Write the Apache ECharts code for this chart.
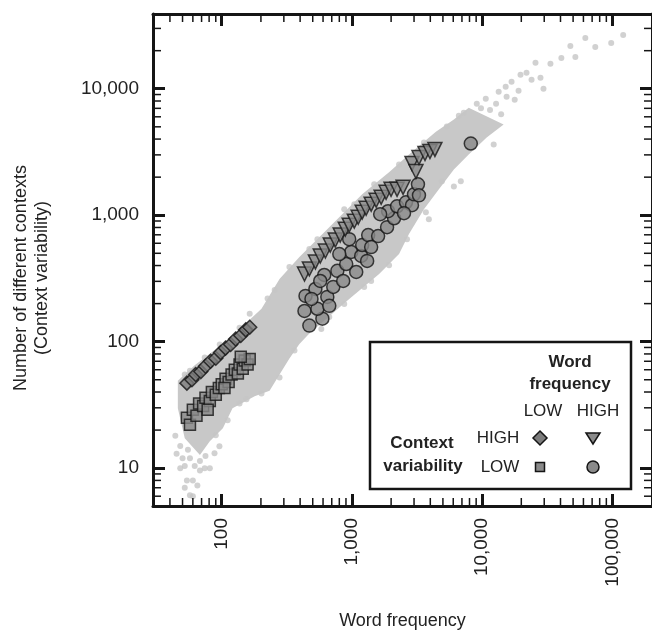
<!DOCTYPE html>
<html><head><meta charset="utf-8">
<script src="https://cdn.jsdelivr.net/npm/echarts@6/dist/echarts.min.js"></script>
<style>html,body{margin:0;padding:0;background:#fff}#c{width:652px;height:635px}</style>
</head><body><div id="c"></div>
<script>
// ---- axis ticks ----
const xTickValues = [100, 1000, 10000, 100000];
const xTickLabels = ['100', '1,000', '10,000', '100,000'];
const yTickValues = [10, 100, 1000, 10000];
const yTickLabels = ['10', '100', '1,000', '10,000'];
const xMinorTicks = [40,50,60,70,80,90,200,300,400,500,600,700,800,900,2000,3000,4000,5000,6000,7000,8000,9000,20000,30000,40000,50000,60000,70000,80000,90000];
const yMinorTicks = [6,7,8,9,20,30,40,50,60,70,80,90,200,300,400,500,600,700,800,900,2000,3000,4000,5000,6000,7000,8000,9000,20000,30000];

// ---- dense grey cloud of all words: outline (frequency, contexts) ----
const bandFreq = [46,62,115,202,278,395,670,1199,1928,2743,4416,6067,7889,14630,10840,7889,6067,4656,3573,2743,2301,1618,953,471,395,331,278,233,179,121,102,81,68,52,46];
const bandCtx  = [49,65,106,182,313,467,805,1462,2183,3020,4580,5700,7080,5212,4110,3020,2303,1602,1115,709,493,343,218,116,96,73.5,55,41,37,29.7,20.7,16.3,12.7,17.2,29.7];

// ---- individual grey words (sparse edges) ----
const grayFreq = [50,57,68,52,62,68,74,81,54,60,52,65,57,60,88,96,48,45,48,44,55,75,
  10670,13400,15170,16830,19050,19720,21930,23970,25700,28070,29600,33480,40620,47630,52030,62060,73990,98100,121200,15420,11500,12800,9800,17800,14000,
  52,74,137,255,543,873,1483,2301,3573,5358,7230,9100,96.5,471,1043,6625,57,164,225,331,
  12270,6860,3899,1928,1242,670,362,202,137,111,90,4910,6067,3698,582,873,1405,2649,155,278];
const grayCtx  = [12,12,11.4,10.4,10.4,9.6,10,10,8,8,7,7.3,6.1,6,13.1,14.9,10,13,15,18,14,12.5,
  8340,9460,10370,11350,9640,12880,13360,11770,16030,12210,10000,15740,17540,21810,17860,25230,21430,23030,26600,8650,6800,7600,7000,8200,6300,
  55,75,129,256,647,1115,1754,2523,3758,5020,6470,7620,95,540,1222,6120,59,166,220,390,
  3622,1854,931,403,271,157,85,39,32.5,23.9,18.2,1854,1690,1057,126,199,302,647,35,52];

// ---- LOW frequency / HIGH context variability (diamonds) ----
const diamondFreq = [54,59,63,69,75,82,90,98,107,117,128,140,153,164];
const diamondCtx  = [47,50,55,58,64,70,74,82,89,95,105,112,124,130];

// ---- LOW frequency / LOW context variability (squares) ----
const squareFreq = [54,57,60,64,67,72,75,81,84,90,95,100,107,113,119,126,133,137,145,150,158,164,140,105,78];
const squareCtx  = [25,22,29,26,32.5,31,36,34,40,38,43,46,51,48,55,60,56,66,61,71,66,73,76,43,29];

// ---- HIGH frequency / HIGH context variability (down triangles) ----
const triangleFreq = [432,471,524,571,625,682,745,813,889,953,1043,1117,1199,1285,1405,1535,1676,1830,1998,2222,2471,2893,3103,3273,3640,3973,4338];
const triangleCtx  = [343,376,427,476,521,581,636,696,776,834,897,964,1057,1136,1222,1313,1387,1518,1602,1602,1661,2566,2218,2862,3078,3192,3311];

// ---- HIGH frequency / LOW context variability (circles) ----
const circleFreq = [471,593,432,543,440,524,647,719,613,773,904,988,1178,1309,1079,857,670,489,1199,1333,1589,1862,2107,1896,1648,2222,2602,2893,2512,2998,3215,3273,1405,953,800,571,8185];
const circleCtx  = [134,152,175,182,230,261,226,271,337,363,411,512,476,435,356,302,192,218,581,696,684,805,946,1075,1018,1177,1266,1199,1038,1462,1754,1436,560,647,493,302,3690];

const X_MIN = 29.65, X_MAX = 201800, Y_MIN = 5.02, Y_MAX = 39000;
const FONT = '"Liberation Sans", Arial, Helvetica, sans-serif';
const INK = '#151515';
const MARK_FILL = '#8a8a8a';

function pairs(a, b) { return a.map((v, i) => [v, b[i]]); }
function tickFormatter(values, labels) {
  return function (v) {
    for (let i = 0; i < values.length; i++) {
      if (Math.abs(v / values[i] - 1) < 1e-6) return labels[i];
    }
    return '';
  };
}
const majorTick = { show: true, inside: true, length: 12, lineStyle: { color: INK, width: 3 } };
const axisLineStyle = { show: true, onZero: false, lineStyle: { color: INK, width: 3 } };

const chart = echarts.init(document.getElementById('c'), null, { renderer: 'canvas' });
chart.setOption({
  animation: false,
  backgroundColor: '#fff',
  grid: { left: 153, top: 14, width: 501, height: 494 },
  xAxis: [
    { type: 'log', logBase: 10, min: X_MIN, max: X_MAX, position: 'bottom',
      axisLine: axisLineStyle, axisTick: majorTick, splitLine: { show: false },
      axisLabel: { rotate: 90, margin: 12, fontSize: 19, color: '#222', fontFamily: FONT,
        formatter: tickFormatter(xTickValues, xTickLabels) },
      name: 'Word frequency', nameLocation: 'middle', nameGap: 106,
      nameTextStyle: { fontSize: 18, color: '#222', fontFamily: FONT } },
    { type: 'log', logBase: 10, min: X_MIN, max: X_MAX, position: 'top',
      axisLine: axisLineStyle, axisTick: majorTick, splitLine: { show: false },
      axisLabel: { show: false } }
  ],
  yAxis: [
    { type: 'log', logBase: 10, min: Y_MIN, max: Y_MAX, position: 'left',
      axisLine: axisLineStyle, axisTick: majorTick, splitLine: { show: false },
      axisLabel: { margin: 14, fontSize: 19, color: '#222', fontFamily: FONT,
        formatter: tickFormatter(yTickValues, yTickLabels) },
      name: 'Number of different contexts\n(Context variability)', nameLocation: 'middle', nameGap: 100,
      nameTextStyle: { fontSize: 18, lineHeight: 21, color: '#222', fontFamily: FONT, padding: [0, 36, 0, 0] } },
    { type: 'log', logBase: 10, min: Y_MIN, max: Y_MAX, position: 'right',
      axisLine: axisLineStyle, axisTick: majorTick, splitLine: { show: false },
      axisLabel: { show: false } }
  ],
  series: [
    { type: 'custom', name: 'cloud', silent: true, z: 1,
      data: [[bandFreq[0], bandCtx[0]]],
      renderItem: function (params, api) {
        return { type: 'polygon',
          shape: { points: bandFreq.map((f, i) => api.coord([f, bandCtx[i]])) },
          style: { fill: '#c8c8c8' } };
      } },
    { type: 'scatter', name: 'all words', silent: true, z: 2, symbol: 'circle', symbolSize: 6,
      itemStyle: { color: '#c6c6c6' }, data: pairs(grayFreq, grayCtx) },
    { type: 'scatter', name: 'LOW/LOW', z: 3, symbol: 'rect', symbolSize: 11,
      itemStyle: { color: MARK_FILL, borderColor: INK, borderWidth: 1.5 }, data: pairs(squareFreq, squareCtx) },
    { type: 'scatter', name: 'LOW/HIGH', z: 3, symbol: 'diamond', symbolSize: 14,
      itemStyle: { color: '#7c7c7c', borderColor: INK, borderWidth: 1.5 }, data: pairs(diamondFreq, diamondCtx) },
    { type: 'scatter', name: 'HIGH/LOW', z: 3, symbol: 'circle', symbolSize: 13,
      itemStyle: { color: MARK_FILL, borderColor: INK, borderWidth: 1.5 }, data: pairs(circleFreq, circleCtx) },
    { type: 'scatter', name: 'HIGH/HIGH', z: 3, symbol: 'triangle', symbolRotate: 180, symbolSize: 14,
      itemStyle: { color: MARK_FILL, borderColor: INK, borderWidth: 1.5 }, data: pairs(triangleFreq, triangleCtx) },
    { type: 'custom', name: 'x minor ticks', silent: true, z: 10, clip: false,
      data: xMinorTicks.map(v => [v, 10]),
      renderItem: function (params, api) {
        const cs = params.coordSys;
        const x = api.coord([api.value(0), 10])[0];
        const b = cs.y + cs.height, t = cs.y;
        return { type: 'group', children: [
          { type: 'line', shape: { x1: x, y1: b, x2: x, y2: b - 8 }, style: { stroke: INK, lineWidth: 1.5 } },
          { type: 'line', shape: { x1: x, y1: t, x2: x, y2: t + 8 }, style: { stroke: INK, lineWidth: 1.5 } }
        ] };
      } },
    { type: 'custom', name: 'y minor ticks', silent: true, z: 10, clip: false,
      data: yMinorTicks.map(v => [100, v]),
      renderItem: function (params, api) {
        const cs = params.coordSys;
        const y = api.coord([100, api.value(1)])[1];
        const l = cs.x, r = cs.x + cs.width;
        return { type: 'group', children: [
          { type: 'line', shape: { x1: l, y1: y, x2: l + 8, y2: y }, style: { stroke: INK, lineWidth: 1.5 } },
          { type: 'line', shape: { x1: r, y1: y, x2: r - 8, y2: y }, style: { stroke: INK, lineWidth: 1.5 } }
        ] };
      } }
  ],
  graphic: [
    { type: 'group', z: 100, children: [
      { type: 'rect', shape: { x: 370, y: 342, width: 261, height: 147 },
        style: { fill: '#fff', stroke: INK, lineWidth: 2.5 } },
      { type: 'text', x: 570, y: 362, style: { text: 'Word', fontSize: 17, fontWeight: 'bold', fontFamily: FONT, fill: '#222', align: 'center', verticalAlign: 'middle' } },
      { type: 'text', x: 570, y: 384, style: { text: 'frequency', fontSize: 17, fontWeight: 'bold', fontFamily: FONT, fill: '#222', align: 'center', verticalAlign: 'middle' } },
      { type: 'text', x: 543, y: 411, style: { text: 'LOW', fontSize: 17, fontFamily: FONT, fill: '#222', align: 'center', verticalAlign: 'middle' } },
      { type: 'text', x: 598, y: 411, style: { text: 'HIGH', fontSize: 17, fontFamily: FONT, fill: '#222', align: 'center', verticalAlign: 'middle' } },
      { type: 'text', x: 422, y: 443, style: { text: 'Context', fontSize: 17, fontWeight: 'bold', fontFamily: FONT, fill: '#222', align: 'center', verticalAlign: 'middle' } },
      { type: 'text', x: 423, y: 466, style: { text: 'variability', fontSize: 17, fontWeight: 'bold', fontFamily: FONT, fill: '#222', align: 'center', verticalAlign: 'middle' } },
      { type: 'text', x: 498, y: 438, style: { text: 'HIGH', fontSize: 17, fontFamily: FONT, fill: '#222', align: 'center', verticalAlign: 'middle' } },
      { type: 'text', x: 500, y: 467, style: { text: 'LOW', fontSize: 17, fontFamily: FONT, fill: '#222', align: 'center', verticalAlign: 'middle' } },
      { type: 'polygon', shape: { points: [[540, 431], [547, 438], [540, 445], [533, 438]] },
        style: { fill: '#7c7c7c', stroke: INK, lineWidth: 1.5 } },
      { type: 'polygon', shape: { points: [[586, 433], [600, 433], [593, 444]] },
        style: { fill: MARK_FILL, stroke: INK, lineWidth: 1.5 } },
      { type: 'rect', shape: { x: 535.5, y: 462.5, width: 9, height: 9 },
        style: { fill: MARK_FILL, stroke: INK, lineWidth: 1.5 } },
      { type: 'circle', shape: { cx: 593, cy: 467, r: 6 },
        style: { fill: MARK_FILL, stroke: INK, lineWidth: 1.5 } }
    ] }
  ]
});
</script>
</body></html>
